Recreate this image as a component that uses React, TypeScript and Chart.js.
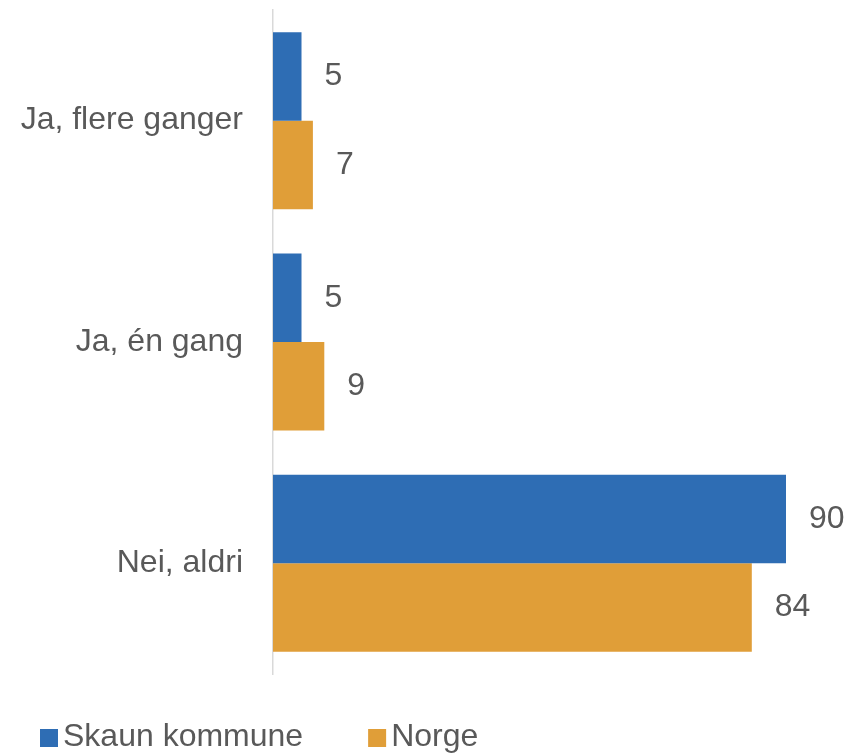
import React, { useEffect, useRef } from "react";
import { Chart, registerables } from "chart.js";

Chart.register(...registerables);

const categories = ["Ja, flere ganger", "Ja, én gang", "Nei, aldri"];
const seriesNames = ["Skaun kommune", "Norge"];
const skaunValues = [5, 5, 90];
const norgeValues = [7, 9, 84];
const seriesColors = ["#2E6DB4", "#E09E38"];
const axisMin = 0;
const axisMax = 100;

const FONT = "'Liberation Sans', Arial, sans-serif";
const TEXT = "#595959";

const valueLabels = {
  id: "valueLabels",
  afterDatasetsDraw(chart: any) {
    const ctx = chart.ctx;
    ctx.save();
    ctx.font = `32px ${FONT}`;
    ctx.fillStyle = TEXT;
    ctx.textAlign = "left";
    ctx.textBaseline = "middle";
    chart.data.datasets.forEach((ds: any, i: number) => {
      const meta = chart.getDatasetMeta(i);
      meta.data.forEach((bar: any, j: number) => {
        ctx.fillText(String(ds.data[j]), bar.x + 23, bar.y);
      });
    });
    ctx.restore();
  },
};

const customLegend = {
  id: "customLegend",
  afterDraw(chart: any) {
    const ctx = chart.ctx;
    ctx.save();
    ctx.font = `32px ${FONT}`;
    ctx.textBaseline = "middle";
    ctx.textAlign = "left";
    let x = 40;
    const y = 738;
    chart.data.datasets.forEach((ds: any) => {
      ctx.fillStyle = ds.backgroundColor;
      ctx.fillRect(x, y - 9, 18, 18);
      x += 18 + 5;
      ctx.fillStyle = TEXT;
      ctx.fillText(ds.label, x, y - 1);
      x += ctx.measureText(ds.label).width + 65;
    });
    ctx.restore();
  },
};

export default function App() {
  const ref = useRef<HTMLCanvasElement | null>(null);

  useEffect(() => {
    if (!ref.current) return;
    const chart = new Chart(ref.current, {
      type: "bar",
      data: {
        labels: categories,
        datasets: [
          {
            label: seriesNames[0],
            data: skaunValues,
            backgroundColor: seriesColors[0],
            categoryPercentage: 0.8,
            barPercentage: 1.0,
          },
          {
            label: seriesNames[1],
            data: norgeValues,
            backgroundColor: seriesColors[1],
            categoryPercentage: 0.8,
            barPercentage: 1.0,
          },
        ],
      },
      options: {
        indexAxis: "y",
        animation: false,
        responsive: false,
        layout: { padding: { left: 0, top: 10, right: 19, bottom: 80 } },
        plugins: {
          legend: { display: false },
          tooltip: { enabled: false },
        },
        scales: {
          x: { display: false, min: axisMin, max: axisMax },
          y: {
            grid: { display: false, drawTicks: false },
            border: { display: true, color: "#D9D9D9", width: 1.5 },
            ticks: {
              font: { family: FONT, size: 32 },
              color: TEXT,
              padding: 30,
            },
            afterFit(scale: any) {
              scale.width = 273;
              scale.paddingTop = 0;
              scale.paddingBottom = 0;
            },
          },
        },
      },
      plugins: [valueLabels, customLegend],
    });
    return () => chart.destroy();
  }, []);

  return (
    <div style={{ position: "absolute", left: 0, top: 0, width: 862, height: 754, background: "#fff" }}>
      <canvas ref={ref} width={862} height={754} style={{ display: "block" }} />
    </div>
  );
}
